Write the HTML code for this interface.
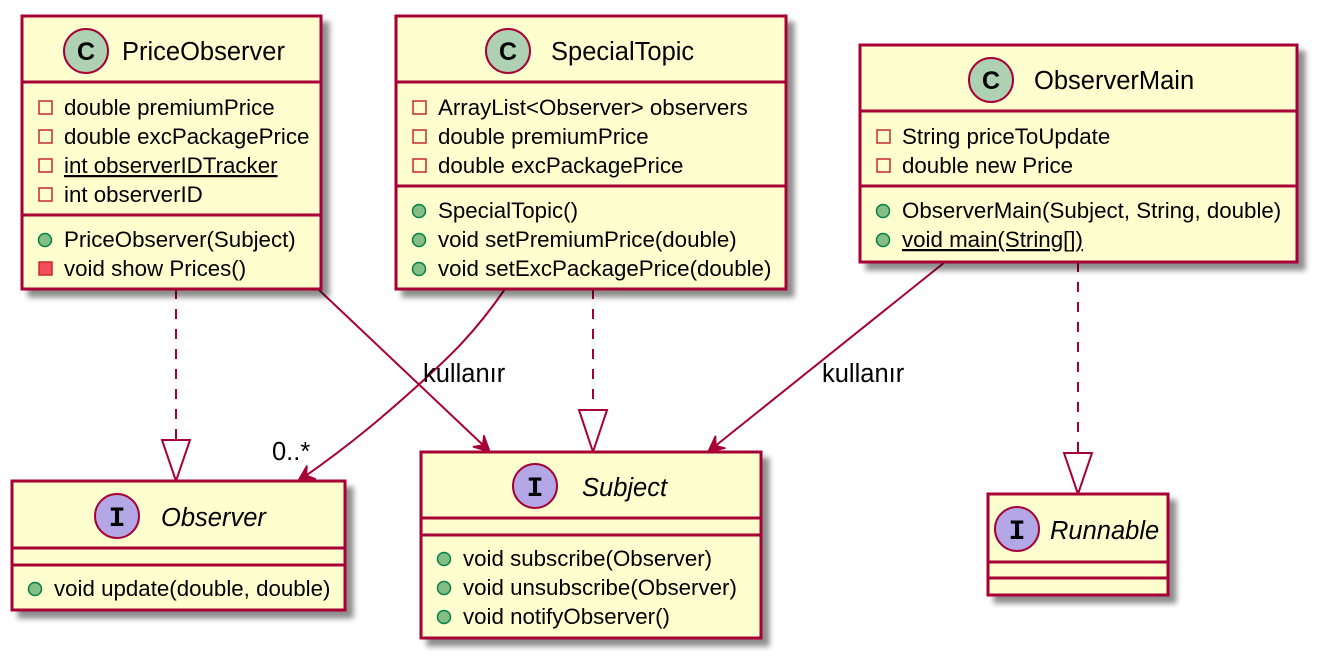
<!DOCTYPE html>
<html><head><meta charset="utf-8"><style>
html,body{margin:0;padding:0;background:#fff;}
svg{display:block;}
text{font-family:"Liberation Sans",Arial,sans-serif;font-size:22.3px;fill:#000;}
.b{fill:#FEFECE;stroke:#A80036;stroke-width:3;}
.s{stroke:#A80036;stroke-width:3;}
.l{stroke:#A80036;stroke-width:2;fill:none;}
.pv{fill:none;stroke:#C82930;stroke-width:1.5;}
.pm{fill:#F24D5C;stroke:#C82930;stroke-width:1.5;}
.pu{fill:#84BE84;stroke:#038048;stroke-width:1.5;}
.cc{fill:#ADD1B2;stroke:#A80036;stroke-width:2;}
.ci{fill:#B4A7E5;stroke:#A80036;stroke-width:2;}
.t{font-size:25.5px;}
.g{font-family:"Liberation Sans",Arial,sans-serif;font-weight:bold;font-size:25px;}
.gi{font-family:"Liberation Mono",monospace;font-weight:bold;font-size:28px;}
.lb{font-size:25.5px;}
.a{fill:#A80036;stroke:#A80036;stroke-width:1.5;}
</style></head><body>
<svg width="1318" height="659" viewBox="0 0 1318 659" xmlns="http://www.w3.org/2000/svg">
<defs>
<filter id="sh" x="-10%" y="-10%" width="130%" height="130%">
<feGaussianBlur in="SourceAlpha" stdDeviation="3"/>
<feOffset dx="7" dy="7"/>
<feComponentTransfer><feFuncA type="linear" slope="0.45"/></feComponentTransfer>
<feMerge><feMergeNode/><feMergeNode in="SourceGraphic"/></feMerge>
</filter>
</defs>

<!-- connectors -->
<line x1="176" y1="289" x2="176" y2="440" class="l" stroke-dasharray="10,10"/>
<polygon points="162,440 190,440 176,481" fill="#fff" stroke="#A80036" stroke-width="2"/>
<line x1="593" y1="289" x2="593" y2="410" class="l" stroke-dasharray="10,10"/>
<polygon points="579,410 607,410 593,452" fill="#fff" stroke="#A80036" stroke-width="2"/>
<line x1="1078" y1="262" x2="1078" y2="453" class="l" stroke-dasharray="10,10"/>
<polygon points="1064,453 1092,453 1078,494" fill="#fff" stroke="#A80036" stroke-width="2"/>

<line x1="318" y1="289" x2="484" y2="446" class="l"/>
<polygon points="490,452 472.9,446.8 482.7,445.1 483.9,435.2" class="a"/>

<path d="M505,289 C470,340 440,365 415,388 C385,415 350,445 304,477" class="l"/>
<polygon points="298,481 307,465.5 306.4,475.5 315.8,478.9" class="a"/>

<line x1="945" y1="262" x2="714" y2="447" class="l"/>
<polygon points="708,452 715.5,435.8 715.8,445.75 725.5,448.2" class="a"/>

<text x="423" y="382" class="lb">kullanır</text>
<text x="822" y="382" class="lb">kullanır</text>
<text x="272" y="460" class="lb">0..*</text>

<!-- PriceObserver -->
<g filter="url(#sh)"><rect x="22" y="16" width="299" height="273" class="b"/></g>
<line x1="22" y1="82" x2="321" y2="82" class="s"/>
<line x1="22" y1="215" x2="321" y2="215" class="s"/>
<circle cx="86" cy="51" r="22" class="cc"/>
<text x="86" y="60" text-anchor="middle" class="g">C</text>
<text x="122" y="60" class="t">PriceObserver</text>
<rect x="39" y="101" width="13" height="13" class="pv"/><text x="64" y="115">double premiumPrice</text>
<rect x="39" y="130" width="13" height="13" class="pv"/><text x="64" y="144">double excPackagePrice</text>
<rect x="39" y="159" width="13" height="13" class="pv"/><text x="64" y="173" text-decoration="underline">int observerIDTracker</text>
<rect x="39" y="188" width="13" height="13" class="pv"/><text x="64" y="202">int observerID</text>
<circle cx="45" cy="240" r="6.5" class="pu"/><text x="64" y="247">PriceObserver(Subject)</text>
<rect x="39" y="262" width="13" height="13" class="pm"/><text x="64" y="276">void show Prices()</text>

<!-- SpecialTopic -->
<g filter="url(#sh)"><rect x="396" y="16" width="390" height="273" class="b"/></g>
<line x1="396" y1="82" x2="786" y2="82" class="s"/>
<line x1="396" y1="186" x2="786" y2="186" class="s"/>
<circle cx="508" cy="51" r="22" class="cc"/>
<text x="508" y="60" text-anchor="middle" class="g">C</text>
<text x="551" y="60" class="t">SpecialTopic</text>
<rect x="413" y="101" width="13" height="13" class="pv"/><text x="438" y="115">ArrayList&lt;Observer&gt; observers</text>
<rect x="413" y="130" width="13" height="13" class="pv"/><text x="438" y="144">double premiumPrice</text>
<rect x="413" y="159" width="13" height="13" class="pv"/><text x="438" y="173">double excPackagePrice</text>
<circle cx="419" cy="211" r="6.5" class="pu"/><text x="438" y="218">SpecialTopic()</text>
<circle cx="419" cy="240" r="6.5" class="pu"/><text x="438" y="247">void setPremiumPrice(double)</text>
<circle cx="419" cy="269" r="6.5" class="pu"/><text x="438" y="276">void setExcPackagePrice(double)</text>

<!-- ObserverMain -->
<g filter="url(#sh)"><rect x="860" y="45" width="437" height="217" class="b"/></g>
<line x1="860" y1="111" x2="1297" y2="111" class="s"/>
<line x1="860" y1="186" x2="1297" y2="186" class="s"/>
<circle cx="991" cy="80" r="22" class="cc"/>
<text x="991" y="89" text-anchor="middle" class="g">C</text>
<text x="1034" y="89" class="t">ObserverMain</text>
<rect x="877" y="130" width="13" height="13" class="pv"/><text x="902" y="144">String priceToUpdate</text>
<rect x="877" y="159" width="13" height="13" class="pv"/><text x="902" y="173">double new Price</text>
<circle cx="883" cy="211" r="6.5" class="pu"/><text x="902" y="218">ObserverMain(Subject, String, double)</text>
<circle cx="883" cy="240" r="6.5" class="pu"/><text x="902" y="247" text-decoration="underline">void main(String[])</text>

<!-- Observer -->
<g filter="url(#sh)"><rect x="12" y="481" width="333" height="129" class="b"/></g>
<line x1="12" y1="548" x2="345" y2="548" class="s"/>
<line x1="12" y1="565" x2="345" y2="565" class="s"/>
<circle cx="117" cy="516" r="22" class="ci"/>
<text x="117" y="526" text-anchor="middle" class="gi">I</text>
<text x="161" y="526" class="t" font-style="italic">Observer</text>
<circle cx="35" cy="589" r="6.5" class="pu"/><text x="54" y="596">void update(double, double)</text>

<!-- Subject -->
<g filter="url(#sh)"><rect x="421" y="452" width="340" height="186" class="b"/></g>
<line x1="421" y1="518" x2="761" y2="518" class="s"/>
<line x1="421" y1="535" x2="761" y2="535" class="s"/>
<circle cx="535" cy="486" r="22" class="ci"/>
<text x="535" y="496" text-anchor="middle" class="gi">I</text>
<text x="582" y="496" class="t" font-style="italic">Subject</text>
<circle cx="444" cy="559" r="6.5" class="pu"/><text x="463" y="566">void subscribe(Observer)</text>
<circle cx="444" cy="588" r="6.5" class="pu"/><text x="463" y="595">void unsubscribe(Observer)</text>
<circle cx="444" cy="617" r="6.5" class="pu"/><text x="463" y="624">void notifyObserver()</text>

<!-- Runnable -->
<g filter="url(#sh)"><rect x="988" y="494" width="180" height="101" class="b"/></g>
<line x1="988" y1="562" x2="1168" y2="562" class="s"/>
<line x1="988" y1="578" x2="1168" y2="578" class="s"/>
<circle cx="1017" cy="529" r="22" class="ci"/>
<text x="1017" y="539" text-anchor="middle" class="gi">I</text>
<text x="1050" y="539" class="t" font-style="italic">Runnable</text>
</svg>
</body></html>
